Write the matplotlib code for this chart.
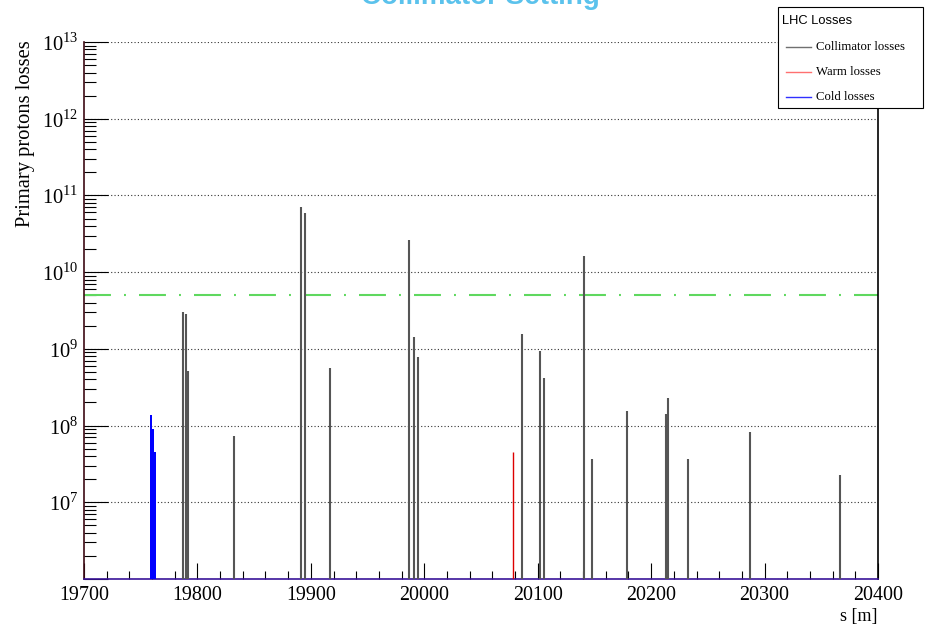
import numpy as np
import matplotlib
matplotlib.use("Agg")
import matplotlib.pyplot as plt
import matplotlib.ticker as mtick
from matplotlib.patches import Rectangle
from matplotlib.lines import Line2D

plt.rcParams["font.family"] = ["Liberation Serif", "DejaVu Serif"]
plt.rcParams["mathtext.fontset"] = "custom"
plt.rcParams["mathtext.rm"] = "Liberation Serif"
plt.rcParams["lines.scale_dashes"] = False

# Loss positions [m] and primary proton losses per element
coll_s = [19787.5, 19789.9, 19791.7, 19832.2, 19891.0, 19894.8, 19916.9,
          19986.5, 19990.5, 19994.5, 20086.1, 20102.3, 20105.8, 20140.8,
          20147.9, 20178.7, 20212.9, 20215.3, 20232.2, 20286.9, 20366.5]
coll_loss = [3.0e9, 2.85e9, 5.1e8, 7.3e7, 7.1e10, 5.9e10, 5.6e8,
             2.6e10, 1.43e9, 7.8e8, 1.56e9, 9.4e8, 4.2e8, 1.62e10,
             3.7e7, 1.55e8, 1.43e8, 2.28e8, 3.7e7, 8.2e7, 2.26e7]

warm_s = [20078.5]
warm_loss = [4.5e7]

cold_s = [19759.2, 19760.9, 19762.6]
cold_loss = [1.37e8, 9.0e7, 4.5e7]

threshold = 5e9

series_names = ["Collimator losses", "Warm losses", "Cold losses"]
series_colors = ["#555555", "#dd0000", "#0000ff"]
legend_colors = ["#707070", "#ff7070", "#3030ff"]

S_MIN, S_MAX = 19700, 20400
Y_MIN, Y_MAX = 1e6, 1e13

fig = plt.figure(figsize=(9.25, 6.26), dpi=100)
ax = fig.add_axes([84 / 925, 1 - 579 / 626, 794 / 925, 537 / 626])

# loss spikes
ax.vlines(coll_s, Y_MIN, coll_loss, color=series_colors[0], lw=1.5, zorder=3)
ax.vlines(warm_s, Y_MIN, warm_loss, color=series_colors[1], lw=1.0, zorder=3)
ax.bar(cold_s, np.array(cold_loss) - Y_MIN, width=1.6, bottom=Y_MIN,
       color=series_colors[2], linewidth=0, zorder=3)

# quench threshold
ax.axhline(threshold, color="#5fd85f", lw=1.5,
           dashes=(19.4, 9.4, 1.4, 9.4), zorder=2)

ax.set_yscale("log")
ax.set_xlim(S_MIN, S_MAX)
ax.set_ylim(Y_MIN, Y_MAX)

ax.xaxis.set_major_locator(mtick.MultipleLocator(100))
ax.xaxis.set_minor_locator(mtick.MultipleLocator(20))
ax.yaxis.set_major_locator(mtick.LogLocator(base=10, numticks=20))
ax.yaxis.set_minor_locator(mtick.LogLocator(base=10, subs=np.arange(2, 10), numticks=20))
ax.yaxis.set_minor_formatter(mtick.NullFormatter())
ax.yaxis.set_major_formatter(mtick.FuncFormatter(
    lambda v, p: "" if v <= Y_MIN * 1.01 else r"$10^{%d}$" % round(np.log10(v))))

ax.tick_params(axis="x", which="major", direction="in", length=11.5, width=0.8,
               labelsize=14.4, pad=5, top=False)
ax.tick_params(axis="x", which="minor", direction="in", length=5.8, width=0.8, top=False)
ax.tick_params(axis="y", which="major", direction="in", length=17.3, width=0.8,
               labelsize=14.8, pad=4, right=False)
ax.tick_params(axis="y", which="minor", direction="in", length=8.6, width=0.8, right=False)

ax.yaxis.grid(True, which="major", linestyle=(0, (0.8, 1.6)), color="#333333", lw=0.8)
ax.set_axisbelow(True)

ax.spines["top"].set_visible(False)
ax.spines["left"].set_color("#3d0a14")
ax.spines["bottom"].set_color("#3a1499")
ax.spines["right"].set_color("black")
for sp in ax.spines.values():
    sp.set_linewidth(1.2)

fig.text(26 / 925, 1 - 40 / 626, "Primary protons losses", rotation=90,
         ha="center", va="top", fontsize=14.8)
fig.text(878 / 925, 1 - 617 / 626, "s [m]", ha="right", va="center", fontsize=13)

# title sitting partly above the canvas
fig.text(480 / 925, 1 - 4 / 626, "Collimator Setting", ha="center", va="baseline",
         fontsize=20, fontweight="bold", color="#5bc2ec", family="Liberation Sans")

# legend box
fig.patches.append(Rectangle((778 / 925, 1 - 108 / 626), 145 / 925, 101 / 626,
                             transform=fig.transFigure, facecolor="white",
                             edgecolor="black", lw=0.8, zorder=10))
fig.text(782 / 925, 1 - 21 / 626, "LHC Losses", ha="left", va="center",
         fontsize=9.3, family="Liberation Sans", zorder=11)
for i, (name, col) in enumerate(zip(series_names, legend_colors)):
    y = 1 - (47 + 25 * i) / 626
    fig.lines.append(Line2D([786 / 925, 811 / 925], [y, y], color=col, lw=1.0,
                            transform=fig.transFigure, zorder=11))
    fig.text(816 / 925, y, name, ha="left", va="center", fontsize=9.2, zorder=11)

fig.savefig("out.png", dpi=100)
